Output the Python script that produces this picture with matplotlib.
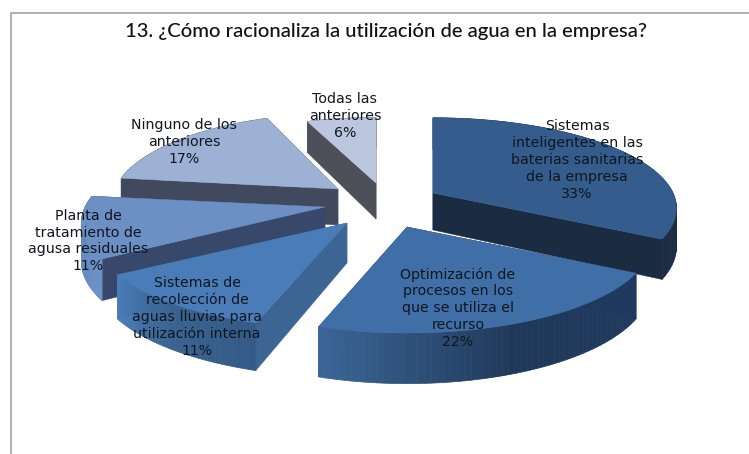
import numpy as np
import matplotlib
matplotlib.use('Agg')
import matplotlib.pyplot as plt
from matplotlib.collections import PolyCollection
from matplotlib.colors import LinearSegmentedColormap
from matplotlib.patches import Polygon

# datos
titulo = '13. ¿Cómo racionaliza la utilización de agua en la empresa?'
categorias = ['Sistemas\ninteligentes en las\nbaterias sanitarias\nde la empresa',
              'Optimización de\nprocesos en los\nque se utiliza el\nrecurso',
              'Sistemas de\nrecolección de\naguas lluvias para\nutilización interna',
              'Planta de\ntratamiento de\nagusa residuales',
              'Ninguno de los\nanteriores',
              'Todas las\nanteriores']
valores = [33, 22, 11, 11, 17, 6]

# estilo y geometria de la torta (pixeles de la imagen)
apices = [(433, 193), (407, 227), (347, 223), (325, 207), (338, 189), (376, 183)]
pos_textos = [(577, 160), (458, 308), (197, 317), (88, 241), (184, 142), (345, 116)]
col_arriba = ['#345c8c', '#3f6fa6', '#4a7db8', '#6c8fc4', '#9db1d4', '#bcc7df']
col_corte = ['#1a2b42', '#223c5e', '#3c6594', '#38486b', '#41495e', '#4d5059']
col_borde = [['#1b2c44', '#18273c'],
             ['#3a6596', '#20395a', '#1f3a5e'],
             ['#4a7db8', '#39628f', '#335a86'],
             ['#5f84b8', '#6a90c6'],
             ['#41495e', '#41495e'],
             ['#4d5059', '#4d5059']]
orden = [5, 4, 3, 2, 0, 1]  # de atras hacia adelante
esc_x = [1, 1, 1.03, 1, 0.93, 0.9]
esc_y = [1, 1, 1, 1, 1, 0.87]
prof = [37, 42, 40, 38, 36, 36]
a, b, k = 240, 88, 0.17

fig = plt.figure(figsize=(7.49, 4.54), dpi=100)
ax = fig.add_axes([0, 0, 1, 1])
ax.set_xlim(0, 749)
ax.set_ylim(454, 0)
ax.axis('off')


# proyeccion de un punto de la rebanada i; th en grados, horario desde arriba
def proyectar(i, th, r=1.0, z=0.0):
    th = np.radians(th)
    u, v = r * np.sin(th), r * np.cos(th)
    s = 1 / (1 + k * v)
    x = apices[i][0] + a * esc_x[i] * u * s
    y = apices[i][1] - b * esc_y[i] * v * s + z * s * prof[i]
    return np.column_stack((x, y))


limites = np.concatenate(([0], np.cumsum(valores))) * 3.6

for i in orden:
    ap = apices[i]
    th = np.linspace(limites[i], limites[i + 1], 60)
    arriba = proyectar(i, th)
    abajo = proyectar(i, th, z=1)
    centro_abajo = proyectar(i, np.array([0.0]), r=0.0, z=1)

    # caras de los cortes
    for p, q in ((arriba[0], abajo[0]), (arriba[-1], abajo[-1])):
        cara = [ap, p, q, centro_abajo[0]]
        ax.add_patch(Polygon(cara, closed=True, fc=col_corte[i], ec=col_corte[i], lw=0.3))

    # borde exterior con degrade
    cmap = LinearSegmentedColormap.from_list('borde', col_borde[i][::-1])
    quads = [[arriba[j], arriba[j + 1], abajo[j + 1], abajo[j]] for j in range(len(th) - 1)]
    pc = PolyCollection(quads, array=np.linspace(0, 1, len(quads)), cmap=cmap, linewidths=0.5)
    pc.set_edgecolor('face')
    ax.add_collection(pc)

    # cara superior
    ax.add_patch(Polygon(np.vstack(([ap], arriba)), closed=True, fc=col_arriba[i], ec=col_arriba[i], lw=0.3))

# marco de la imagen
ax.plot([10.5, 10.5, 749], [454, 12.5, 12.5], color='#a9a9a9', lw=1.3)

ax.text(386, 31, titulo, ha='center', va='center', fontsize=14.6, fontfamily='Lato',
        fontweight='medium', color='#111111')

for txt, val, (x, y) in zip(categorias, valores, pos_textos):
    ax.text(x, y, f'{txt}\n{val}%', ha='center', va='center', fontsize=10.2, linespacing=1.26,
            color='#10161f')

fig.savefig('out.png', dpi=100)
